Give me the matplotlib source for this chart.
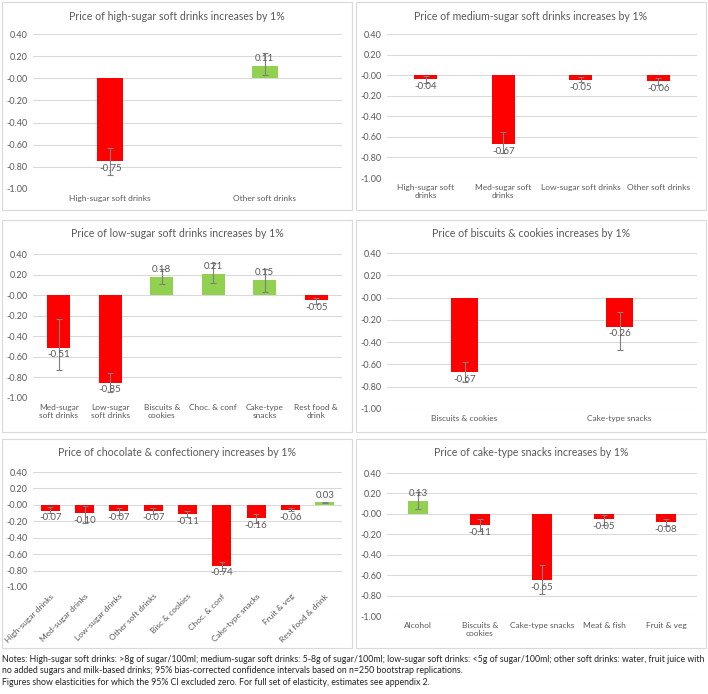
import numpy as np
import matplotlib
matplotlib.use("Agg")
import matplotlib.pyplot as plt
from matplotlib.patches import Rectangle

plt.rcParams['font.family'] = ['Lato', 'DejaVu Sans']

# price of high-sugar soft drinks
hs_cats = ["High-sugar soft drinks", "Other soft drinks"]
hs_vals = [-0.75, 0.11]
hs_lo = [-0.87, 0.03]
hs_hi = [-0.63, 0.23]

# price of medium-sugar soft drinks
ms_cats = ["High-sugar soft\ndrinks", "Med-sugar soft\ndrinks", "Low-sugar soft drinks", "Other soft drinks"]
ms_vals = [-0.04, -0.67, -0.05, -0.06]
ms_lo = [-0.08, -0.76, -0.07, -0.10]
ms_hi = [-0.01, -0.55, -0.02, -0.03]

# price of low-sugar soft drinks
ls_cats = ["Med-sugar\nsoft drinks", "Low-sugar\nsoft drinks", "Biscuits &\ncookies", "Choc. & conf",
           "Cake-type\nsnacks", "Rest food &\ndrink"]
ls_vals = [-0.51, -0.85, 0.18, 0.21, 0.15, -0.05]
ls_lo = [-0.73, -0.94, 0.11, 0.12, 0.03, -0.09]
ls_hi = [-0.23, -0.76, 0.25, 0.31, 0.25, -0.03]

# price of biscuits & cookies
bc_cats = ["Biscuits & cookies", "Cake-type snacks"]
bc_vals = [-0.67, -0.26]
bc_lo = [-0.76, -0.47]
bc_hi = [-0.58, -0.13]

# price of chocolate & confectionery
ch_cats = ["High-sugar drinks", "Med-sugar drinks", "Low-sugar drinks", "Other soft drinks",
           "Bisc & cookies", "Choc. & conf", "Cake-type snacks", "Fruit & veg", "Rest food & drink"]
ch_vals = [-0.07, -0.10, -0.07, -0.07, -0.11, -0.74, -0.16, -0.06, 0.03]
ch_lo = [-0.10, -0.22, -0.12, -0.11, -0.15, -0.80, -0.22, -0.08, 0.02]
ch_hi = [-0.03, -0.01, -0.04, -0.04, -0.08, -0.69, -0.11, -0.04, 0.04]

# price of cake-type snacks
ck_cats = ["Alcohol", "Biscuits &\ncookies", "Cake-type snacks", "Meat & fish", "Fruit & veg"]
ck_vals = [0.13, -0.11, -0.65, -0.05, -0.08]
ck_lo = [0.05, -0.17, -0.78, -0.11, -0.12]
ck_hi = [0.21, -0.05, -0.50, -0.01, -0.05]

titles = ["Price of high-sugar soft drinks increases by 1%",
          "Price of medium-sugar soft drinks increases by 1%",
          "Price of low-sugar soft drinks increases by 1%",
          "Price of biscuits & cookies increases by 1%",
          "Price of chocolate & confectionery increases by 1%",
          "Price of cake-type snacks increases by 1%"]

W, H = 708, 694
RED = "#FF0000"
GREEN = "#92D050"
TXT = "#595959"

fig = plt.figure(figsize=(W / 100, H / 100), dpi=100)


def box(x0, y0, x1, y1):
    return [x0 / W, 1 - y1 / H, (x1 - x0) / W, (y1 - y0) / H]


# panel frames (pixels): x0, y0, x1, y1
frames = [(2, 2, 352, 210), (356, 2, 706, 210),
          (2, 220, 352, 432), (356, 220, 706, 432),
          (2, 439, 352, 648), (356, 439, 706, 648)]
# plot areas: x0, y(0.40), x1, y(-1.00)
areas = [(33, 34, 342, 189), (387, 34, 697, 178),
         (33, 254, 342, 398), (387, 253, 697, 409),
         (33, 472, 342, 587), (387, 473, 697, 616)]
widths = [0.17, 0.30, 0.45, 0.17, 0.56, 0.31]

panels = [(hs_cats, hs_vals, hs_lo, hs_hi), (ms_cats, ms_vals, ms_lo, ms_hi),
          (ls_cats, ls_vals, ls_lo, ls_hi), (bc_cats, bc_vals, bc_lo, bc_hi),
          (ch_cats, ch_vals, ch_lo, ch_hi), (ck_cats, ck_vals, ck_lo, ck_hi)]

for i, (cats, vals, lo, hi) in enumerate(panels):
    fx0, fy0, fx1, fy1 = frames[i]
    fig.patches.append(Rectangle((fx0 / W, 1 - fy1 / H), (fx1 - fx0) / W, (fy1 - fy0) / H,
                                 transform=fig.transFigure, fill=False,
                                 edgecolor="#D9D9D9", linewidth=0.8))
    fig.text((fx0 + fx1) / 2 / W, 1 - (fy0 + 14) / H, titles[i], ha="center", va="center",
             fontsize=7.6, color=TXT)

    ax0, ay0, ax1, ay1 = areas[i]
    ax = fig.add_axes(box(ax0, ay0, ax1, ay1))
    x = np.arange(len(cats))
    vals = np.array(vals)
    colors = [GREEN if v > 0 else RED for v in vals]
    ax.bar(x, vals, width=widths[i], color=colors, zorder=2)
    yerr = [vals - np.array(lo), np.array(hi) - vals]
    ax.errorbar(x, vals, yerr=yerr, fmt="none", ecolor="#7F7F7F", elinewidth=0.8,
                capsize=2, capthick=0.8, zorder=3)
    for xi, v in zip(x, vals):
        if v < 0:
            ax.annotate(f"{v:.2f}", (xi, v), xytext=(0, -2), textcoords="offset points",
                        ha="center", va="top", fontsize=7, color=TXT, zorder=4)
        else:
            ax.annotate(f"{v:.2f}", (xi, v), xytext=(0, 2), textcoords="offset points",
                        ha="center", va="bottom", fontsize=7, color=TXT, zorder=4)

    ax.set_xlim(-0.5, len(cats) - 0.5)
    ax.set_ylim(-1.0, 0.4)
    ax.set_yticks(np.arange(-1.0, 0.41, 0.2))
    ax.set_yticklabels([f"{t:.2f}" for t in np.arange(-1.0, 0.41, 0.2)])
    ax.set_xticks(x)
    if i == 4:
        ax.set_xticklabels(cats, rotation=45, ha="right", rotation_mode="anchor")
    else:
        ax.set_xticklabels(cats)
    ax.tick_params(axis="y", length=0, labelsize=6.5, colors=TXT, pad=4)
    ax.tick_params(axis="x", length=0, labelsize=6, colors=TXT, pad=4)
    ax.grid(axis="y", color="#D9D9D9", linewidth=0.75, zorder=0)
    ax.set_axisbelow(True)
    for s in ax.spines.values():
        s.set_visible(False)

notes = ("Notes: High-sugar soft drinks: >8g of sugar/100ml; medium-sugar soft drinks: 5-8g of sugar/100ml; "
         "low-sugar soft drinks: <5g of sugar/100ml; other soft drinks: water, fruit juice with\n"
         "no added sugars and milk-based drinks; 95% bias-corrected confidence intervals based on n=250 bootstrap replications.\n"
         "Figures show elasticities for which the 95% CI excluded zero. For full set of elasticity, estimates see appendix 2.")
fig.text(2 / W, 1 - 655 / H, notes, ha="left", va="top", fontsize=6.3, color="#222222", linespacing=1.35)

fig.savefig("out.png", dpi=100, facecolor="white")
